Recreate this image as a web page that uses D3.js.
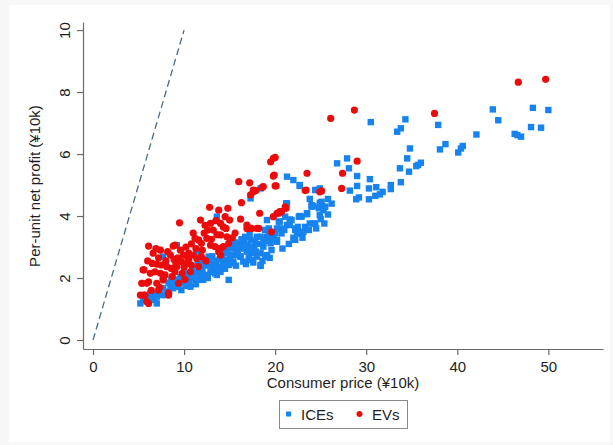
<!DOCTYPE html>
<html>
<head>
<meta charset="utf-8">
<script src="https://cdn.jsdelivr.net/npm/d3@7"></script>
<style>
  html, body { margin: 0; padding: 0; background: #f7f7f7; }
  svg { display: block; font-family: "Liberation Sans", Arial, Helvetica, sans-serif; }
</style>
</head>
<body>
<svg id="chart" width="613" height="445"></svg>
<script>
// ---------------- data ----------------
const xTicks = [0, 10, 20, 30, 40, 50];
const yTicks = [0, 2, 4, 6, 8, 10];
const seriesNames = ["ICEs", "EVs"];
const xTitle = "Consumer price (\u00a510k)";
const yTitle = "Per-unit net profit (\u00a510k)";
const refLine = [[0, 0], [10, 10]];

const iceData = [
  [37.9,6.94],[38.1,6.15],[38.7,6.32],[40.1,6.05],[40.4,6.18],[40.6,6.26],[42.1,6.63],[43.9,7.44],
  [44.5,7.09],[46.3,6.65],[46.6,6.61],[47.0,6.56],[48.1,6.87],[48.3,7.49],[49.2,6.85],[50.0,7.42],
  [30.5,7.03],[34.3,7.12],[33.4,6.72],[33.8,6.83],[26.8,5.70],[27.9,5.86],[28.1,5.54],[29.0,5.29],
  [30.4,5.19],[28.2,4.82],[29.0,4.97],[28.9,4.54],[29.2,4.60],[30.3,4.89],[30.3,4.54],[31.1,4.93],
  [31.0,4.65],[31.5,4.70],[31.8,4.78],[32.7,5.00],[32.7,4.87],[33.8,5.09],[33.7,5.54],[34.7,5.43],
  [34.5,5.86],[34.8,6.18],[35.5,5.61],[35.7,5.65],[36.0,5.72],[24.2,4.32],[24.6,4.84],[24.9,4.43],
  [25.3,4.30],[22.7,5.00],
  [21.3,4.41],[21.1,3.98],[21.6,3.89],[24.0,4.35],[22.7,4.00],[23.5,4.06],[24.4,3.76],[22.2,3.55],
  [22.5,3.65],[21.6,3.71],[22.2,3.23],[20.4,3.82],[17.4,2.58],[18.4,2.42],[19.1,2.74],
  [21.3,5.27],[22.0,5.16],[21.2,4.41],[22.6,3.98],[21.8,3.87],[19.1,3.87],[20.5,3.82],[21.3,3.71],
  [22.2,3.60],[22.6,3.44],[20.2,3.60],[19.8,3.33],[18.9,3.55],[19.1,3.33],[18.4,3.33],[17.8,3.17],
  [19.5,3.12],[18.7,3.01],[17.3,3.23],[16.7,3.33],[16.2,3.06],[16.9,2.90],[17.4,2.80],[18.0,2.69],
  [18.4,2.39],[15.4,3.01],[15.8,2.90],[15.1,2.74],[15.6,2.74],[16.2,2.69],[16.5,2.53],[14.7,2.58],
  [14.3,2.47],[14.9,2.42],[15.4,2.47],[13.8,2.37],[13.2,2.31],[12.9,2.20],[13.4,2.15],[14.0,2.20],
  [12.3,2.10],[11.8,2.04],[11.2,2.15],[11.4,1.94],[12.1,1.94],[10.8,1.99],[10.3,1.94],[9.9,1.83],
  [9.4,1.72],[8.8,1.67],[8.5,1.72],[10.7,1.72],[9.7,1.61],[8.1,1.56],[7.5,1.45],[7.0,1.40],
  [6.5,1.34],[5.5,1.29],[5.2,1.18],[7.0,1.18],[6.3,1.51],[7.7,1.67],[9.2,1.88],[9.6,2.04],
  [10.1,2.15],[12.7,2.69],[11.4,2.85],[7.7,2.69],[13.6,3.98],[17.3,4.57],[14.9,1.94],[20.2,3.23],
  [20.7,3.44],[9.2,3.06],[18.4,4.89],
  [18.7,3.12],[19.5,3.28],[19.8,3.44],[17.6,3.01],[16.9,2.85],[16.2,2.69],[15.4,2.53],[18.4,2.80],
  [18.9,2.69],[19.6,2.90],[20.2,3.17],[18.0,3.33],[19.3,3.60],[23.3,3.65],[23.8,3.76],[23.1,3.49],
  [22.4,3.44],[24.9,4.03],[25.3,4.19],[24.8,4.25],
  [22.7,4.97],[24.4,4.84],[24.9,4.89],[25.5,4.30],[25.1,4.46],[24.0,4.30],[23.5,4.09],[22.9,3.98],
  [25.4,3.76],[24.2,3.76],
  [10.5,2.05],[11.0,2.10],[11.6,2.20],[12.0,2.30],[12.5,2.40],[13.0,2.45],[13.5,2.55],[14.2,2.65],
  [14.6,2.80],[15.2,2.95],[16.0,3.10],[16.6,3.15],[17.0,3.05],[17.7,2.95],[18.2,3.10],[18.9,3.20],
  [19.3,3.40],[20.0,3.45],[20.6,3.60],[21.0,3.55],[11.9,2.50],[12.8,2.55],[13.9,2.60],[15.0,2.60],
  [15.9,2.75],[16.4,2.95],[17.1,2.65],[17.9,2.85],[9.0,1.80],[8.3,1.85],[9.8,2.00],[10.6,1.85],
  [11.3,1.80],[8.0,1.45],[7.3,1.55],[6.0,1.25],[5.8,1.40],[6.8,1.30],[12.6,2.00],[13.6,2.10],
  [14.5,2.30],[15.7,2.40],[16.8,2.45],[17.6,2.50],[18.6,2.55],[19.4,2.65],[20.8,2.95],[21.5,3.10],
  [22.0,3.30],[23.0,3.30],[23.7,3.55],[24.5,3.60],[25.0,3.90],[25.8,4.05],[26.2,4.40],[25.8,4.55],
  [23.8,4.55],
  [10.9,2.30],[11.5,2.45],[12.2,2.60],[13.1,2.70],[14.1,2.85],[14.8,3.00],[15.6,3.15],[16.3,3.25],
  [17.2,3.40],[12.0,2.15],[13.3,2.35],[14.4,2.45],[9.3,1.95],[8.6,1.95],[10.2,1.75],[6.7,1.50]
];

const evData = [
  [46.7,8.32],[49.7,8.41],[37.5,7.31],[26.1,7.15],[28.7,7.42],[29.0,5.77],[23.5,5.38],[27.4,5.38],
  [23.4,4.84],[25.1,4.81],[27.3,4.89],
  [19.8,5.86],[19.5,5.75],[19.9,5.32],[20.0,4.97],[16.0,5.11],[17.2,5.07],[18.6,4.93],[17.6,4.78],
  [17.9,4.82],[17.3,4.68],[16.3,4.43],[12.8,4.28],[13.8,4.19],[14.8,4.25],[14.5,3.98],[15.0,3.87],
  [18.3,4.09],[20.2,4.09],[20.7,4.14],[21.2,4.25],[9.5,3.78],[11.8,3.87],[12.9,3.76],[14.0,3.76],
  [14.3,3.65],[12.6,3.55],[13.2,3.55],[14.0,3.39],[14.7,3.33],[14.9,3.12],[16.9,3.60],[17.3,3.60],
  [18.2,3.60],[19.6,3.49],[11.2,3.28],[11.6,3.23],[11.9,3.12],[12.5,3.28],[12.9,3.06],[13.4,3.01],
  [14.0,2.96],[8.8,3.03],[6.1,3.03],[7.4,2.90],[6.6,2.80],[8.5,2.74],[9.6,2.90],[9.9,2.74],
  [10.5,2.80],[11.0,2.74],[11.4,2.63],[11.9,2.69],[6.5,2.47],[7.0,2.45],[7.5,2.42],[8.1,2.37],
  [8.6,2.31],[9.2,2.37],[9.7,2.53],[10.3,2.47],[10.8,2.42],[5.6,2.26],[6.8,2.20],[7.4,2.15],
  [7.9,2.10],[7.7,1.99],[11.6,2.37],[10.7,2.20],[14.0,2.74],[14.3,3.01],[5.4,1.83],[5.9,1.83],
  [5.2,1.45],[5.6,1.45],[6.1,1.18],[7.0,1.83],[8.3,1.51],[9.4,1.83],[6.3,2.15],
  [19.8,3.98],[20.4,4.09],[16.9,3.71],[17.4,3.60],[18.0,3.60],[17.6,4.84],[20.0,5.89],[19.8,5.29],
  [20.1,4.97],[18.7,4.95],[23.3,4.82],[24.9,4.78],[20.5,4.14],[21.1,4.30],
  [9.0,3.06],[5.5,2.26],[5.35,1.83],[6.1,1.88],[5.7,1.45],[5.9,1.24],[7.2,1.61],[8.3,1.45],[7.7,1.94],
  [8.0,2.55],[8.9,2.60],[9.3,2.65],[10.0,2.35],[10.5,2.60],[7.2,2.65],[6.0,2.55],[6.9,2.95],
  [9.1,2.45],[10.2,3.00],[10.8,3.10],[11.3,2.95],[12.2,3.45],[12.0,2.90],[13.0,3.25],[13.6,3.40],
  [14.6,3.60],[15.3,3.30],[13.8,2.85],[12.4,2.55],[8.7,2.05],[9.8,2.15],[7.3,1.70],[6.4,1.60],
  [10.1,1.95],
  [12.3,3.70],[13.5,3.85],[15.6,3.45],[16.2,3.90],[11.0,3.45],[8.2,2.85],[9.0,2.20],[10.4,2.65]
];

// ---------------- chart ----------------
const svg = d3.select("#chart");
const W = 613, H = 445;
const iceColor = "#1683ee", evColor = "#ec0b0b";
const axisColor = "#6a6a6a", textColor = "#1e1e1e";

svg.append("rect").attr("x", 9).attr("y", 5).attr("width", W - 12).attr("height", H - 8).attr("fill", "#ffffff");

const x = d3.scaleLinear().domain([-1.1, 56]).range([83, 603]);
const y = d3.scaleLinear().domain([-0.29, 10.26]).range([349, 22]);

// reference 45-degree line
svg.append("path")
  .attr("d", d3.line().x(d => x(d[0])).y(d => y(d[1]))(refLine))
  .attr("fill", "none").attr("stroke", "#4d6a8a").attr("stroke-width", 1.3)
  .attr("stroke-dasharray", "7,4");

// axes
const xAxis = svg.append("g").attr("transform", `translate(0,${y.range()[0]})`)
  .call(d3.axisBottom(x).tickValues(xTicks).tickSize(6).tickSizeOuter(0).tickPadding(6));
const yAxis = svg.append("g").attr("transform", `translate(${x.range()[0]},0)`)
  .call(d3.axisLeft(y).tickValues(yTicks).tickSize(6).tickSizeOuter(0));

[xAxis, yAxis].forEach(g => {
  g.select(".domain").attr("stroke", axisColor).attr("stroke-width", 1.2);
  g.selectAll(".tick line").attr("stroke", axisColor).attr("stroke-width", 1.2);
  g.selectAll("text").attr("fill", textColor).style("font-size", "15px");
});
yAxis.selectAll(".tick text")
  .attr("x", null).attr("dy", "0.35em")
  .attr("transform", "translate(-18,0) rotate(-90)")
  .attr("text-anchor", "middle");

// titles
svg.append("text").attr("x", (x.range()[0] + x.range()[1]) / 2).attr("y", 388)
  .attr("text-anchor", "middle").attr("fill", textColor).style("font-size", "15px").text(xTitle);
svg.append("text").attr("transform", `translate(35,186) rotate(-90)`).attr("dy", "0.35em")
  .attr("text-anchor", "middle").attr("fill", textColor).style("font-size", "15px").text(yTitle);

// markers
const sq = 6.4;
svg.append("g").selectAll("rect").data(iceData).join("rect")
  .attr("x", d => x(d[0]) - sq / 2).attr("y", d => y(d[1]) - sq / 2)
  .attr("width", sq).attr("height", sq).attr("fill", iceColor);
svg.append("g").selectAll("circle").data(evData).join("circle")
  .attr("cx", d => x(d[0])).attr("cy", d => y(d[1])).attr("r", 3.6).attr("fill", evColor);

// legend
const lg = svg.append("g");
lg.append("rect").attr("x", 279.5).attr("y", 400.5).attr("width", 128).attr("height", 28)
  .attr("fill", "#fff").attr("stroke", "#8a8a8a").attr("stroke-width", 1);
lg.append("rect").attr("x", 286).attr("y", 411.5).attr("width", 5).attr("height", 5).attr("fill", iceColor);
lg.append("text").attr("x", 301).attr("y", 420).attr("fill", textColor).style("font-size", "15px").text(seriesNames[0]);
lg.append("circle").attr("cx", 359.5).attr("cy", 414).attr("r", 3).attr("fill", evColor);
lg.append("text").attr("x", 372).attr("y", 420).attr("fill", textColor).style("font-size", "15px").text(seriesNames[1]);
</script>
</body>
</html>
